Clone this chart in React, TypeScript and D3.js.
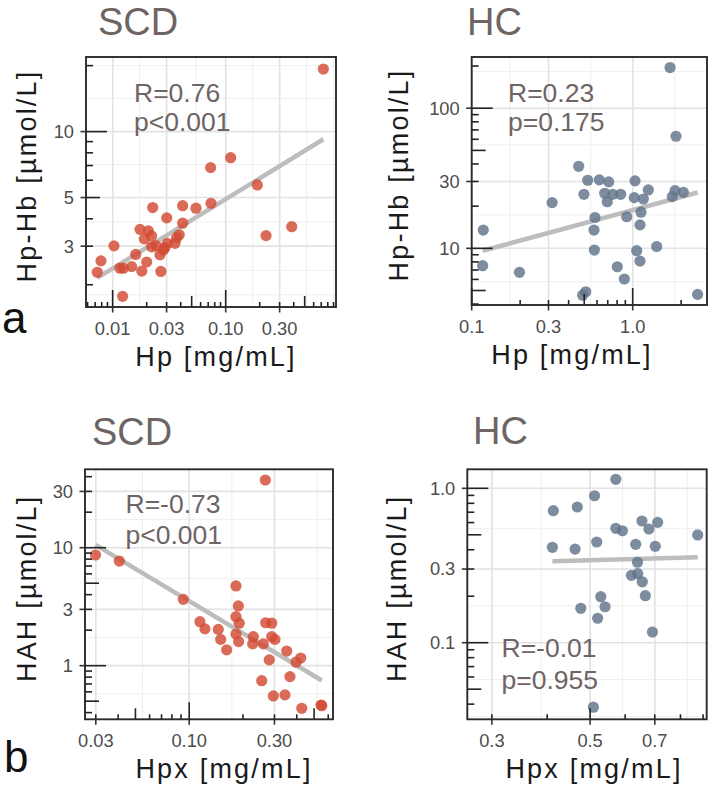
import React from 'react';
import * as d3 from 'd3';

// Panel a: haptoglobin vs Hp-Hb complex
const scdHp = [0.731, 0.1106, 0.0736, 0.1905, 0.0741, 0.0416, 0.0546, 0.0226, 0.0301, 0.0416, 0.384, 0.2275, 0.01746, 0.0207, 0.01905, 0.0221, 0.0388, 0.0368, 0.0356, 0.0304, 0.029, 0.0221, 0.0242, 0.0281, 0.01027, 0.016, 0.0262, 0.02, 0.00788, 0.01473, 0.01161, 0.01242, 0.0181, 0.0267, 0.00731, 0.01225];
const scdHpHb = [19.3, 7.6, 6.85, 5.71, 4.71, 4.59, 4.47, 4.5, 4.04, 3.82, 3.68, 3.35, 3.58, 3.52, 3.24, 3.34, 3.38, 3.28, 3.09, 3.09, 2.95, 2.98, 3.02, 2.88, 3.01, 2.75, 2.74, 2.54, 2.57, 2.42, 2.38, 2.38, 2.31, 2.3, 2.28, 1.77];
const hcHp = [1.706, 1.857, 0.462, 0.5255, 0.62, 0.71, 1.034, 0.498, 0.67, 0.751, 0.842, 0.695, 1.023, 1.164, 1.25, 1.832, 2.063, 1.762, 0.316, 1.126, 0.583, 0.918, 1.11, 0.575, 0.118, 0.578, 1.059, 1.409, 1.11, 0.117, 0.802, 0.198, 0.887, 0.511, 0.489, 2.53];
const hcHpHb = [195, 63.1, 38.5, 30.6, 30.8, 29.8, 30.3, 24.3, 24.7, 24.3, 24.3, 21.5, 23.0, 22.5, 26.1, 25.8, 25.1, 23.4, 21.2, 18.1, 16.6, 16.8, 14.7, 13.5, 13.5, 9.72, 9.62, 10.3, 8.11, 7.52, 7.39, 6.74, 6.04, 4.9, 4.63, 4.69];

// Panel b: hemopexin vs heme-albumin-heme
const scdHpx = [0.2667, 0.0299, 0.0406, 0.0926, 0.1827, 0.1884, 0.1827, 0.1905, 0.1148, 0.1225, 0.1454, 0.15, 0.162, 0.1827, 0.189, 0.2285, 0.2265, 0.26, 0.268, 0.2897, 0.2897, 0.302, 0.3513, 0.2805, 0.3962, 0.421, 0.2546, 0.3664, 0.2958, 0.3436, 0.4265, 0.547, 0.552];
const scdHah = [37.5, 8.67, 7.71, 3.65, 4.74, 3.21, 2.6, 2.29, 2.36, 2.05, 2.03, 1.67, 1.36, 1.85, 1.6, 1.76, 1.53, 1.53, 2.31, 2.29, 1.76, 1.67, 1.33, 1.12, 1.07, 1.16, 0.746, 0.807, 0.554, 0.565, 0.435, 0.464, 0.458];
const hcHpx = [0.5715, 0.5117, 0.413, 0.4678, 0.6548, 0.7106, 0.679, 0.5715, 0.5915, 0.875, 0.411, 0.4625, 0.5175, 0.6338, 0.7018, 0.6397, 0.6197, 0.6407, 0.656, 0.6665, 0.5286, 0.5405, 0.4764, 0.52, 0.6915, 0.5087];
const hcHah = [1.144, 0.895, 0.716, 0.757, 0.614, 0.602, 0.545, 0.551, 0.531, 0.499, 0.415, 0.404, 0.449, 0.434, 0.421, 0.332, 0.273, 0.28, 0.248, 0.2016, 0.1986, 0.171, 0.167, 0.144, 0.1173, 0.0382];

// Axis breaks and labels
const scdHpTicks = [0.01, 0.03, 0.1, 0.3];
const scdHpTickLabels = ['0.01', '0.03', '0.10', '0.30'];
const scdHpHbTicks = [3, 5, 10];
const scdHpHbTickLabels = ['3', '5', '10'];
const hcHpTicks = [0.1, 0.3, 1];
const hcHpTickLabels = ['0.1', '0.3', '1.0'];
const hcHpHbTicks = [10, 30, 100];
const hcHpHbTickLabels = ['10', '30', '100'];
const scdHpxTicks = [0.03, 0.1, 0.3];
const scdHpxTickLabels = ['0.03', '0.10', '0.30'];
const scdHahTicks = [1, 3, 10, 30];
const scdHahTickLabels = ['1', '3', '10', '30'];
const hcHpxTicks = [0.3, 0.5, 0.7];
const hcHpxTickLabels = ['0.3', '0.5', '0.7'];
const hcHahTicks = [0.1, 0.3, 1];
const hcHahTickLabels = ['0.1', '0.3', '1.0'];

const statLabels = [
  ['R=0.76', 'p<0.001'],
  ['R=0.23', 'p=0.175'],
  ['R=-0.73', 'p<0.001'],
  ['R=-0.01', 'p=0.955'],
];

const SCD_COLOR = '#d24a33';
const HC_COLOR = '#60748a';
const TITLE_COLOR = '#6e6464';
const FONT = 'Liberation Sans, Arial, Helvetica, sans-serif';

type Box = { x0: number; y0: number; x1: number; y1: number };

// ggplot-style minor breaks: midpoints between major breaks in log space
function minorBreaks(breaks: number[], domain: [number, number]) {
  let b = breaks.map(Math.log10);
  const lo = Math.log10(domain[0]);
  const hi = Math.log10(domain[1]);
  if (lo < b[0]) b = [b[0] - (b[1] - b[0]), ...b];
  if (hi > b[b.length - 1]) b = [...b, b[b.length - 1] + (b[b.length - 1] - b[b.length - 2])];
  const out: number[] = [];
  for (let i = 0; i < b.length - 1; i++) out.push(b[i], (b[i] + b[i + 1]) / 2);
  out.push(b[b.length - 1]);
  return out.filter((v) => v >= lo && v <= hi).map((v) => Math.pow(10, v));
}

// annotation_logticks: long at 1, mid at 5, short elsewhere
function logTicks(domain: [number, number]) {
  const out: { v: number; kind: number }[] = [];
  const k0 = Math.floor(Math.log10(domain[0]));
  const k1 = Math.ceil(Math.log10(domain[1]));
  for (let k = k0; k <= k1; k++) {
    for (let m = 1; m <= 9; m++) {
      const v = m * Math.pow(10, k);
      if (v >= domain[0] && v <= domain[1]) out.push({ v, kind: m === 1 ? 2 : m === 5 ? 1 : 0 });
    }
  }
  return out;
}

// least squares in log-log space
function fitLine(xs: number[], ys: number[]) {
  const lx = xs.map(Math.log10);
  const ly = ys.map(Math.log10);
  const mx = d3.mean(lx)!;
  const my = d3.mean(ly)!;
  let sxy = 0, sxx = 0;
  lx.forEach((x, i) => {
    sxy += (x - mx) * (ly[i] - my);
    sxx += (x - mx) * (x - mx);
  });
  const slope = sxy / sxx;
  const [xmin, xmax] = d3.extent(lx) as [number, number];
  return [xmin, xmax].map((x) => [Math.pow(10, x), Math.pow(10, my + slope * (x - mx))]);
}

type PanelProps = {
  box: Box;
  xDomain: [number, number];
  yDomain: [number, number];
  xTicks: number[];
  xTickLabels: string[];
  yTicks: number[];
  yTickLabels: string[];
  xs: number[];
  ys: number[];
  color: string;
  title: string;
  titleX: number;
  titleY: number;
  xTitle: string;
  xTitleX: number;
  yTitle: string;
  yTitleX: number;
  stats: string[];
  statX: number;
  statY: number[];
};

function Panel(p: PanelProps) {
  const { box } = p;
  const x = d3.scaleLog().domain(p.xDomain).range([box.x0, box.x1]);
  const y = d3.scaleLog().domain(p.yDomain).range([box.y1, box.y0]);
  const line = d3.line<number[]>().x((d) => x(d[0])).y((d) => y(d[1]));
  const fit = fitLine(p.xs, p.ys);
  const xMinor = minorBreaks(p.xTicks, p.xDomain);
  const yMinor = minorBreaks(p.yTicks, p.yDomain);
  const hLen = [5, 11, 17];
  const vLen = [7, 14, 21];
  const yMid = (box.y0 + box.y1) / 2;

  return (
    <g>
      <rect x={box.x0} y={box.y0} width={box.x1 - box.x0} height={box.y1 - box.y0} fill="#fff" />
      {xMinor.map((v, i) => (
        <line key={'xm' + i} x1={x(v)} x2={x(v)} y1={box.y0} y2={box.y1} stroke="#ededed" strokeWidth={0.9} />
      ))}
      {yMinor.map((v, i) => (
        <line key={'ym' + i} x1={box.x0} x2={box.x1} y1={y(v)} y2={y(v)} stroke="#ededed" strokeWidth={0.9} />
      ))}
      {p.xTicks.map((v, i) => (
        <line key={'xg' + i} x1={x(v)} x2={x(v)} y1={box.y0} y2={box.y1} stroke="#e3e3e3" strokeWidth={1.6} />
      ))}
      {p.yTicks.map((v, i) => (
        <line key={'yg' + i} x1={box.x0} x2={box.x1} y1={y(v)} y2={y(v)} stroke="#e3e3e3" strokeWidth={1.6} />
      ))}
      <path d={line(fit) || ''} stroke="#bdbdbd" strokeWidth={4.5} fill="none" />
      {p.xs.map((v, i) => (
        <circle key={'pt' + i} cx={x(v)} cy={y(p.ys[i])} r={5.6} fill={p.color} fillOpacity={0.82} />
      ))}
      {p.stats.map((s, i) => (
        <text key={'st' + i} x={p.statX} y={p.statY[i]} fontSize={26.5} fill={TITLE_COLOR} fontFamily={FONT}>
          {s}
        </text>
      ))}
      {logTicks(p.xDomain).map((t, i) => (
        <line key={'lx' + i} x1={x(t.v)} x2={x(t.v)} y1={box.y1} y2={box.y1 - hLen[t.kind]} stroke="#222" strokeWidth={1.6} />
      ))}
      {logTicks(p.yDomain).map((t, i) => (
        <line key={'ly' + i} x1={box.x0} x2={box.x0 + vLen[t.kind]} y1={y(t.v)} y2={y(t.v)} stroke="#222" strokeWidth={1.6} />
      ))}
      {p.xTicks.map((v, i) => (
        <line key={'xt' + i} x1={x(v)} x2={x(v)} y1={box.y1} y2={box.y1 + 5.5} stroke="#333" strokeWidth={1.6} />
      ))}
      {p.yTicks.map((v, i) => (
        <line key={'yt' + i} x1={box.x0 - 5.5} x2={box.x0} y1={y(v)} y2={y(v)} stroke="#333" strokeWidth={1.6} />
      ))}
      <rect x={box.x0} y={box.y0} width={box.x1 - box.x0} height={box.y1 - box.y0} fill="none" stroke="#2b2b2b" strokeWidth={1.9} />
      {p.xTicks.map((v, i) => (
        <text key={'xl' + i} x={x(v)} y={box.y1 + 27.5} textAnchor="middle" fontSize={18.3} fill="#4d4d4d" fontFamily={FONT}>
          {p.xTickLabels[i]}
        </text>
      ))}
      {p.yTicks.map((v, i) => (
        <text key={'yl' + i} x={box.x0 - 12} y={y(v)} dy="0.35em" textAnchor="end" fontSize={18.3} fill="#4d4d4d" fontFamily={FONT}>
          {p.yTickLabels[i]}
        </text>
      ))}
      <text x={p.titleX} y={p.titleY} fontSize={38} fill={TITLE_COLOR} fontFamily={FONT}>
        {p.title}
      </text>
      <text x={p.xTitleX} y={box.y1 + 59} textAnchor="middle" fontSize={27} letterSpacing={2.2} fill="#1a1a1a" fontFamily={FONT}>
        {p.xTitle}
      </text>
      <text
        transform={`translate(${p.yTitleX},${yMid - 6}) rotate(-90)`}
        textAnchor="middle"
        fontSize={27}
        letterSpacing={2.2}
        fill="#1a1a1a"
        fontFamily={FONT}
      >
        {p.yTitle}
      </text>
    </g>
  );
}

export default function App() {
  return (
    <svg width={714} height={789} style={{ position: 'absolute', left: 0, top: 0, background: '#fff' }}>
      <rect width={714} height={789} fill="#fff" />
      <Panel
        box={{ x0: 86, y0: 57, x1: 336, y1: 307 }}
        xDomain={[0.00581, 0.946]}
        yDomain={[1.583, 21.9]}
        xTicks={scdHpTicks}
        xTickLabels={scdHpTickLabels}
        yTicks={scdHpHbTicks}
        yTickLabels={scdHpHbTickLabels}
        xs={scdHp}
        ys={scdHpHb}
        color={SCD_COLOR}
        title="SCD"
        titleX={98}
        titleY={35}
        xTitle="Hp [mg/mL]"
        xTitleX={216}
        yTitle="Hp-Hb [µmol/L]"
        yTitleX={36}
        stats={statLabels[0]}
        statX={134}
        statY={[101.7, 130.5]}
      />
      <Panel
        box={{ x0: 471.7, y0: 57, x1: 707, y1: 305 }}
        xDomain={[0.1, 2.894]}
        yDomain={[3.94, 232]}
        xTicks={hcHpTicks}
        xTickLabels={hcHpTickLabels}
        yTicks={hcHpHbTicks}
        yTickLabels={hcHpHbTickLabels}
        xs={hcHp}
        ys={hcHpHb}
        color={HC_COLOR}
        title="HC"
        titleX={467}
        titleY={35}
        xTitle="Hp [mg/mL]"
        xTitleX={572}
        yTitle="Hp-Hb [µmol/L]"
        yTitleX={408}
        stats={statLabels[1]}
        statX={508}
        statY={[101.7, 130.5]}
      />
      <Panel
        box={{ x0: 85, y0: 469.3, x1: 333, y1: 719.3 }}
        xDomain={[0.0261, 0.638]}
        yDomain={[0.351, 46.2]}
        xTicks={scdHpxTicks}
        xTickLabels={scdHpxTickLabels}
        yTicks={scdHahTicks}
        yTickLabels={scdHahTickLabels}
        xs={scdHpx}
        ys={scdHah}
        color={SCD_COLOR}
        title="SCD"
        titleX={92}
        titleY={445}
        xTitle="Hpx [mg/mL]"
        xTitleX={224}
        yTitle="HAH [µmol/L]"
        yTitleX={36}
        stats={statLabels[2]}
        statX={125.5}
        statY={[512.7, 543.5]}
      />
      <Panel
        box={{ x0: 467.3, y0: 469.3, x1: 706.7, y1: 719.3 }}
        xDomain={[0.264, 0.917]}
        yDomain={[0.0319, 1.328]}
        xTicks={hcHpxTicks}
        xTickLabels={hcHpxTickLabels}
        yTicks={hcHahTicks}
        yTickLabels={hcHahTickLabels}
        xs={hcHpx}
        ys={hcHah}
        color={HC_COLOR}
        title="HC"
        titleX={473}
        titleY={444}
        xTitle="Hpx [mg/mL]"
        xTitleX={594}
        yTitle="HAH [µmol/L]"
        yTitleX={406}
        stats={statLabels[3]}
        statX={501.5}
        statY={[657.3, 689.3]}
      />
      <text x={2} y={333} fontSize={44} fill="#111" fontFamily={FONT}>a</text>
      <text x={4} y={772} fontSize={44} fill="#111" fontFamily={FONT}>b</text>
    </svg>
  );
}
